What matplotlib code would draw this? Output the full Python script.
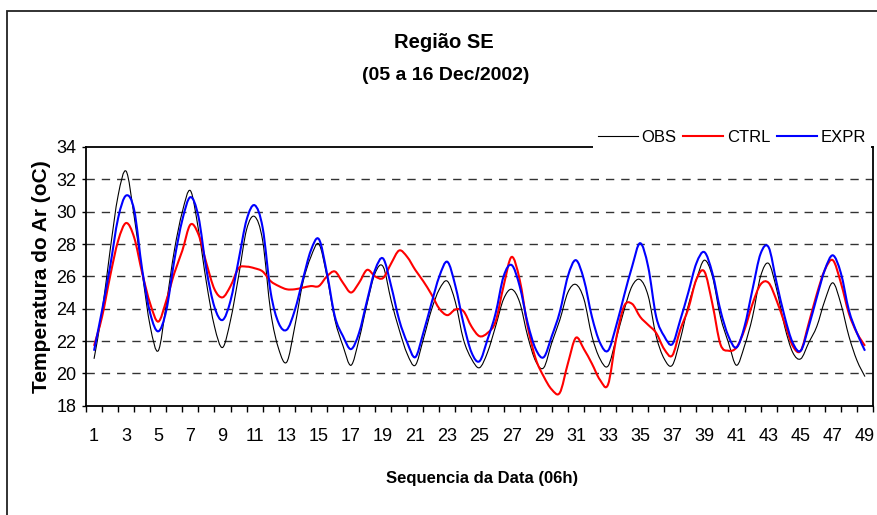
# -*- coding: utf-8 -*-
import matplotlib
matplotlib.use('Agg')
import matplotlib.pyplot as plt
from matplotlib.patches import Rectangle, PathPatch
from matplotlib.path import Path
import numpy as np
################################################################################
# data read at every half step of the 06h sequence (1 .. 49)
seq = np.arange(1, 49.5, 0.5)
obs = [20.9, 23.8, 27.6, 31.0, 32.5, 29.7, 26.2, 22.9, 21.4, 24.3,
       27.6, 30.0, 31.3, 28.9, 25.6, 22.9, 21.6, 23.3, 26.0, 28.9,
       29.7, 28.2, 23.8, 21.5, 20.7, 22.9, 25.6, 27.2, 28.0, 26.0,
       23.3, 21.7, 20.5, 22.1, 24.3, 26.2, 26.6, 24.5, 22.7, 21.2,
       20.5, 22.1, 23.9, 25.2, 25.7, 24.4, 22.1, 20.9, 20.35, 21.3,
       22.9, 24.6, 25.2, 24.4, 22.3, 20.75, 20.35, 21.9, 23.3, 25.0,
       25.5, 24.6, 22.3, 20.9, 20.45, 22.1, 23.9, 25.4, 25.8, 24.8,
       22.3, 20.9, 20.5, 22.1, 24.2, 25.8, 27.0, 26.0, 23.5, 21.9,
       20.5, 21.7, 23.5, 26.0, 26.8, 25.2, 22.9, 21.3, 20.9, 21.9,
       22.9, 24.5, 25.6, 24.3, 22.3, 20.8, 19.8]
ctrl = [21.7, 23.5, 26.0, 28.2, 29.3, 28.4, 26.2, 24.3, 23.2, 24.5,
        26.2, 27.6, 29.2, 28.6, 26.8, 25.2, 24.7, 25.4, 26.5, 26.6,
        26.5, 26.3, 25.7, 25.4, 25.2, 25.2, 25.3, 25.4, 25.4, 26.0,
        26.3, 25.6, 25.0, 25.6, 26.4, 26.0, 25.9, 26.8, 27.6, 27.2,
        26.4, 25.7, 24.9, 24.0, 23.6, 23.95, 23.85, 22.9, 22.3, 22.5,
        23.2, 25.4, 27.2, 25.8, 22.9, 20.9, 19.8, 19.0, 18.8, 20.6,
        22.2, 21.5, 20.6, 19.6, 19.3, 22.1, 24.15, 24.3, 23.5, 23.0,
        22.5, 21.5, 21.1, 22.7, 24.0, 25.8, 26.3, 24.3, 21.8, 21.4,
        21.6, 22.7, 24.3, 25.5, 25.6, 24.5, 23.1, 21.7, 21.4, 23.1,
        24.9, 26.4, 27.0, 25.6, 23.7, 22.5, 21.7]
expr = [21.4, 23.9, 26.6, 29.6, 31.0, 30.1, 26.4, 23.7, 22.6, 23.9,
        27.0, 29.5, 30.9, 29.7, 26.4, 24.1, 23.3, 24.5, 27.0, 29.5,
        30.4, 29.0, 25.0, 23.1, 22.7, 23.9, 25.8, 27.6, 28.3, 26.2,
        23.5, 22.3, 21.5, 22.5, 24.5, 26.4, 27.1, 25.4, 23.3, 21.9,
        21.0, 22.5, 24.3, 26.0, 26.9, 25.4, 23.1, 21.3, 20.75, 22.1,
        23.7, 26.0, 26.7, 25.4, 23.1, 21.5, 21.0, 22.3, 23.8, 26.0,
        27.0, 25.8, 23.5, 21.9, 21.4, 22.9, 24.8, 26.6, 28.05, 26.6,
        23.5, 22.3, 21.8, 23.3, 25.0, 26.8, 27.5, 26.2, 23.9, 22.3,
        21.6, 22.9, 25.2, 27.4, 27.8, 25.6, 23.5, 21.9, 21.4, 22.9,
        24.7, 26.4, 27.3, 26.2, 23.9, 22.5, 21.4]
categories = list(range(1, 50))
xtick_labels = [str(c) for c in categories[::2]]
yticks = list(range(18, 35, 2))
grid_levels = [20, 22, 24, 26, 28, 30, 32]
################################################################################


def smooth_path(x, y):
    # Excel-like smoothed line: cubic bezier through every data point
    p = np.column_stack([x, y]).astype(float)
    p = np.vstack([p[0], p, p[-1]])
    verts = [p[1]]
    codes = [Path.MOVETO]
    for i in range(1, len(p) - 2):
        c1 = p[i] + (p[i + 1] - p[i - 1]) / 6.0
        c2 = p[i + 1] - (p[i + 2] - p[i]) / 6.0
        verts += [c1, c2, p[i + 1]]
        codes += [Path.CURVE4] * 3
    return Path(verts, codes)


plt.rcParams['font.family'] = ['Liberation Sans', 'DejaVu Sans']

fig = plt.figure(figsize=(8.77, 5.15), dpi=100)
ax = fig.add_axes([86 / 877, 1 - 405.7 / 515, 787 / 877, 258.7 / 515])

# outer chart frame
fig.patches.append(Rectangle((7 / 877, -0.1), 1.2, 1.1 - 11 / 515,
                             transform=fig.transFigure, fill=False,
                             edgecolor='#222222', linewidth=1.3))

for lv in grid_levels:
    ax.axhline(lv, color='#333333', linewidth=1.0, dashes=(6, 5), zorder=1)

series = [('OBS', obs, 'black', 0.8, 3),
          ('CTRL', ctrl, '#ff0000', 1.5, 3),
          ('EXPR', expr, '#0000ff', 1.5, 4)]
for name, vals, col, lw, z in series:
    ax.add_patch(PathPatch(smooth_path(seq, vals), facecolor='none',
                           edgecolor=col, linewidth=lw, zorder=z))
    ax.plot([], [], color=col, linewidth=lw, label=name)

ax.set_xlim(0.5, 49.5)
ax.set_ylim(18, 34)
ax.set_yticks(yticks)
ax.set_xticks(categories[::2])
ax.set_xticklabels(xtick_labels)
ax.set_xticks(np.arange(0.5, 50, 1), minor=True)
ax.tick_params(axis='x', which='major', length=0, pad=16, labelsize=13)
ax.tick_params(axis='x', which='minor', length=4, width=1, direction='out')
ax.tick_params(axis='y', length=3, width=1, pad=4, labelsize=13)
for s in ax.spines.values():
    s.set_linewidth(1.3)

ax.set_ylabel('Temperatura do Ar (oC)', fontsize=15, fontweight='bold',
              labelpad=4)
fig.text(482 / 877, 1 - 478 / 515, 'Sequencia da Data (06h)', fontsize=12,
         fontweight='bold', ha='center', va='center')
fig.text(444 / 877, 1 - 42 / 515, 'Região SE', fontsize=14.5,
         fontweight='bold', ha='center', va='center')
fig.text(446 / 877, 1 - 76 / 515, '(05 a 16 Dec/2002)', fontsize=14,
         fontweight='bold', ha='center', va='center')

leg = ax.legend(loc='lower left', ncol=3, mode='expand', fontsize=12,
                bbox_to_anchor=(593 / 877, 1 - 150 / 515, 278 / 877, 26 / 515),
                bbox_transform=fig.transFigure, borderaxespad=0,
                handlelength=2.4, handletextpad=0.2, columnspacing=0.3,
                frameon=True, fancybox=False, borderpad=0.3)
leg.get_frame().set_facecolor('white')
leg.get_frame().set_edgecolor('none')
leg.get_frame().set_alpha(1)
leg.set_zorder(10)

fig.savefig('out.png', dpi=100)
